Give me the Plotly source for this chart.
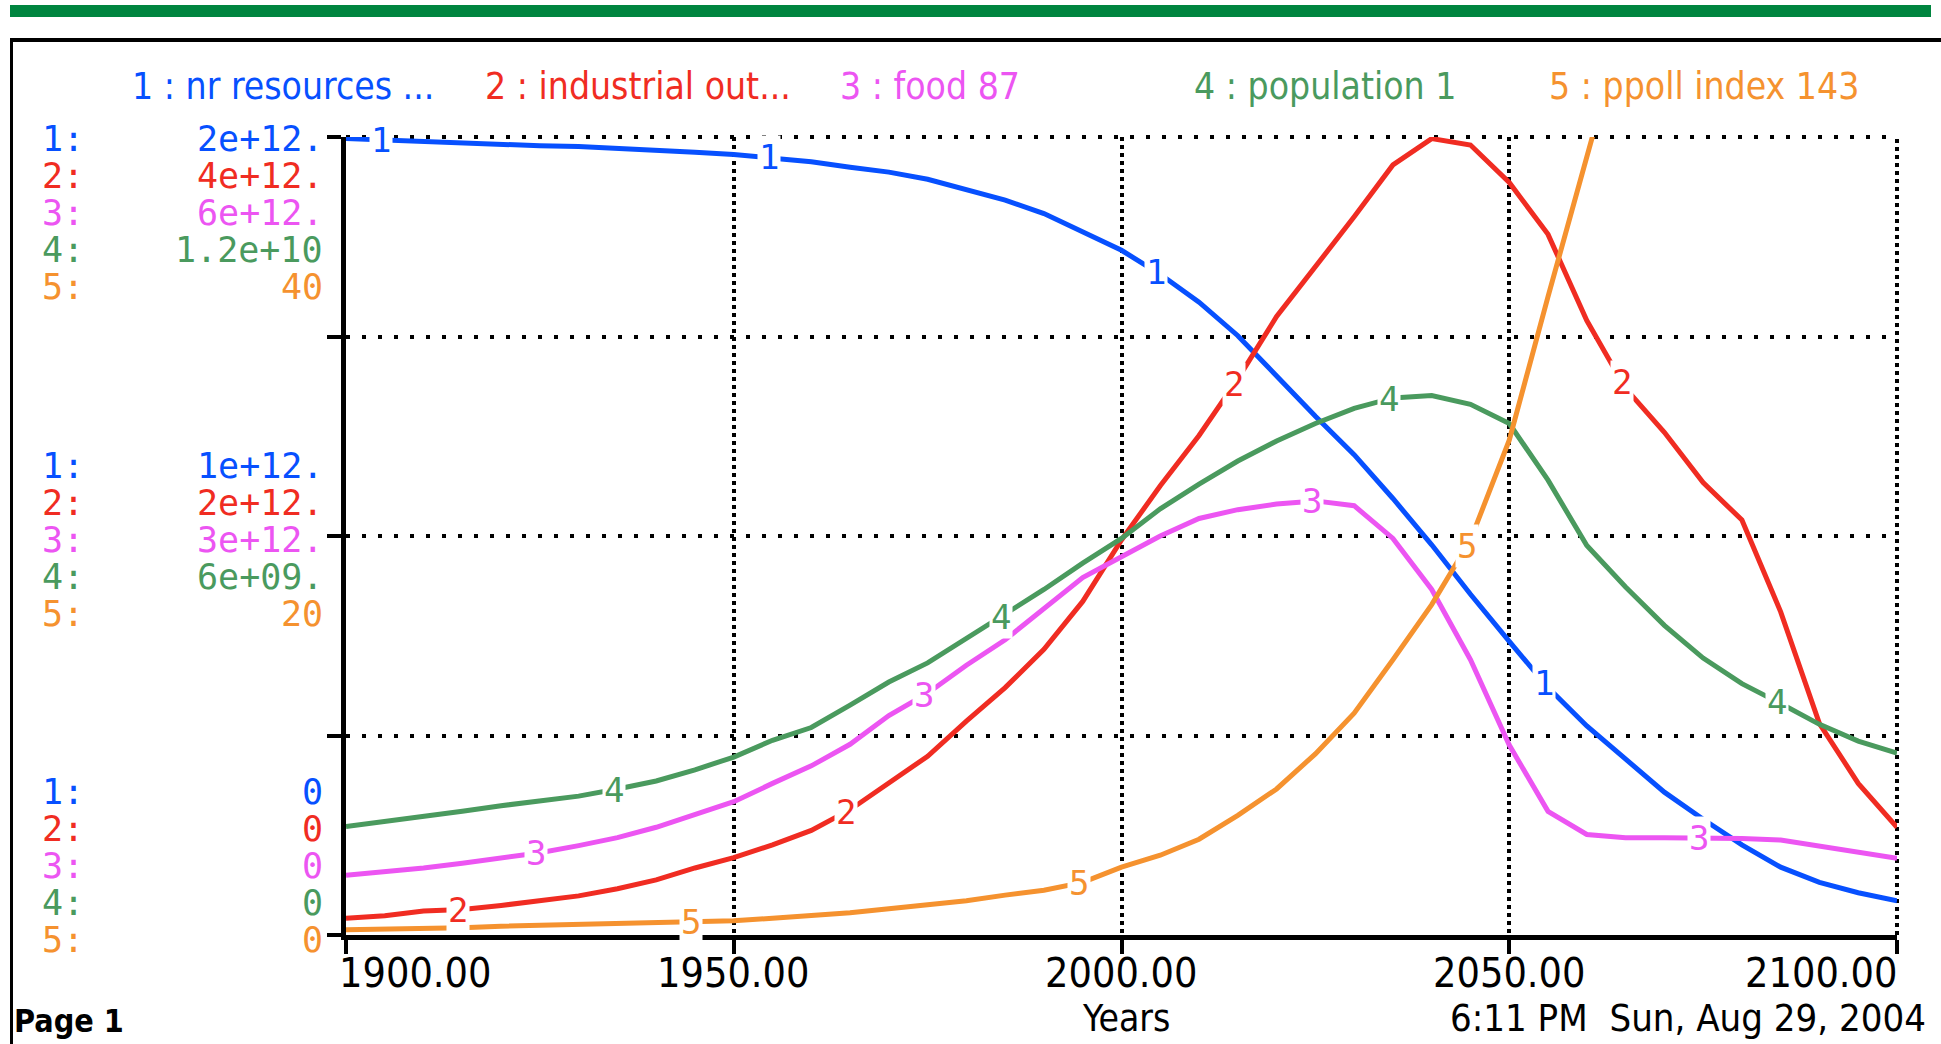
import numpy as np
import plotly.graph_objects as go

# ---------------- data ----------------
YEARS = list(range(1900, 2101, 5))

nr_resources = [1.996e12, 1.992e12, 1.990e12, 1.986e12, 1.980e12, 1.978e12, 1.976e12, 1.972e12,
                1.966e12, 1.962e12, 1.956e12, 1.948e12, 1.938e12, 1.924e12, 1.912e12, 1.894e12,
                1.868e12, 1.842e12, 1.808e12, 1.762e12, 1.716e12, 1.656e12, 1.586e12, 1.502e12,
                1.400e12, 1.300e12, 1.204e12, 1.094e12, 0.978e12, 0.854e12, 0.736e12, 0.620e12,
                0.524e12, 0.442e12, 0.358e12, 0.290e12, 0.226e12, 0.170e12, 0.132e12, 0.106e12,
                0.086e12]

industrial_output = [0.084e12, 0.096e12, 0.120e12, 0.128e12, 0.148e12, 0.172e12, 0.196e12, 0.232e12,
                     0.276e12, 0.336e12, 0.388e12, 0.452e12, 0.524e12, 0.628e12, 0.760e12, 0.896e12,
                     1.072e12, 1.240e12, 1.432e12, 1.672e12, 1.980e12, 2.252e12, 2.504e12, 2.788e12,
                     3.100e12, 3.348e12, 3.600e12, 3.860e12, 3.992e12, 3.960e12, 3.772e12, 3.512e12,
                     3.080e12, 2.740e12, 2.520e12, 2.268e12, 2.080e12, 1.620e12, 1.060e12, 0.760e12,
                     0.540e12]

food = [0.450e12, 0.474e12, 0.504e12, 0.540e12, 0.576e12, 0.618e12, 0.672e12, 0.732e12,
        0.810e12, 0.906e12, 1.002e12, 1.140e12, 1.272e12, 1.434e12, 1.650e12, 1.818e12,
        2.028e12, 2.220e12, 2.460e12, 2.688e12, 2.844e12, 3.000e12, 3.132e12, 3.198e12,
        3.240e12, 3.264e12, 3.228e12, 2.982e12, 2.598e12, 2.070e12, 1.428e12, 0.930e12,
        0.756e12, 0.732e12, 0.732e12, 0.732e12, 0.726e12, 0.714e12, 0.666e12, 0.624e12,
        0.576e12]

population = [1.632e9, 1.704e9, 1.788e9, 1.860e9, 1.944e9, 2.016e9, 2.088e9, 2.196e9,
              2.316e9, 2.484e9, 2.676e9, 2.928e9, 3.120e9, 3.456e9, 3.804e9, 4.092e9,
              4.464e9, 4.824e9, 5.196e9, 5.592e9, 5.964e9, 6.408e9, 6.780e9, 7.128e9,
              7.428e9, 7.692e9, 7.920e9, 8.076e9, 8.112e9, 7.980e9, 7.692e9, 6.840e9,
              5.856e9, 5.232e9, 4.656e9, 4.164e9, 3.780e9, 3.480e9, 3.168e9, 2.916e9,
              2.736e9]

PPOLL_YEARS = list(range(1900, 2066, 5))
ppoll_index = [0.26, 0.28, 0.32, 0.36, 0.44, 0.48, 0.52, 0.56, 0.60, 0.64, 0.72, 0.84,
               0.96, 1.12, 1.32, 1.52, 1.72, 2.00, 2.24, 2.64, 3.40, 4.00, 4.80, 6.00,
               7.32, 9.08, 11.12, 13.80, 16.56, 19.80, 24.80, 32.00, 38.80, 46.00]

legend_labels = ["1 : nr resources ...", "2 : industrial out...", "3 : food 87",
                 "4 : population 1", "5 : ppoll index 143"]
row_labels = ["1:", "2:", "3:", "4:", "5:"]
scale_max = [2e12, 4e12, 6e12, 1.2e10, 40]
top_labels = ["2e+12.", "4e+12.", "6e+12.", "1.2e+10", "40"]
mid_labels = ["1e+12.", "2e+12.", "3e+12.", "6e+09.", "20"]
bottom_labels = ["0", "0", "0", "0", "0"]
x_ticks = [1900, 1950, 2000, 2050, 2100]
x_tick_labels = ["1900.00", "1950.00", "2000.00", "2050.00", "2100.00"]

colors = ["#0750FF", "#F02C22", "#EC55F2", "#4A9A5E", "#F5922F"]

# ---------------- figure ----------------
W, H = 1941, 1044
ML, MR, MT, MB = 346, 44, 137, 109
PW, PH = W - ML - MR, H - MT - MB


def px(x):
    return (x - ML) / PW


def py(y):
    return (H - MB - y) / PH


MONO = "DejaVu Sans Mono"
COND = "DejaVu Sans Condensed, DejaVu Sans"

series = [(YEARS, nr_resources), (YEARS, industrial_output), (YEARS, food),
          (YEARS, population), (PPOLL_YEARS, ppoll_index)]
axis_ids = ["y", "y2", "y3", "y4", "y5"]

fig = go.Figure()
for k, (xs, ys) in enumerate(series):
    fig.add_trace(go.Scatter(x=xs, y=ys, yaxis=axis_ids[k], mode="lines",
                             line=dict(color=colors[k], width=5),
                             hoverinfo="skip", showlegend=False))

ann = []
# number labels on curves
for k, (xs, ys) in enumerate(series):
    lab_years = np.arange(1904.5 + 10 * k, 2100, 50)
    lab_years = lab_years[lab_years <= xs[-1]]
    yv = np.interp(lab_years, xs, ys)
    for lx, ly in zip(lab_years, yv):
        if ly > scale_max[k]:
            continue
        ann.append(dict(x=float(lx), y=float(ly), xref="x", yref=axis_ids[k],
                        text=str(k + 1), showarrow=False, bgcolor="white", borderpad=1,
                        font=dict(family=MONO, size=34, color=colors[k])))

# scale labels on the left
for i in range(5):
    groups = [(scale_max[i], top_labels[i], -(2 + 37 * i)),
              (scale_max[i] / 2, mid_labels[i], -(4 + 37 * (i - 2))),
              (0, bottom_labels[i], 37 * (4 - i) - 5)]
    for yv, txt, ysh in groups:
        ann.append(dict(x=px(40), y=yv, xref="paper", yref=axis_ids[i], yshift=ysh,
                        text=row_labels[i], showarrow=False, xanchor="left", yanchor="middle",
                        font=dict(family=MONO, size=35, color=colors[i])))
        ann.append(dict(x=px(325), y=yv, xref="paper", yref=axis_ids[i], yshift=ysh,
                        text=txt, showarrow=False, xanchor="right", yanchor="middle",
                        font=dict(family=MONO, size=35, color=colors[i])))

# x tick labels
for j, (tv, tl) in enumerate(zip(x_ticks, x_tick_labels)):
    if j == 0:
        xa, xs_ = "left", -9
    elif j == len(x_ticks) - 1:
        xa, xs_ = "right", 3
    else:
        xa, xs_ = "center", 0
    ann.append(dict(x=tv, y=0, xref="x", yref="paper", xanchor=xa, xshift=xs_,
                    yanchor="middle", yshift=-38, text=tl, showarrow=False,
                    font=dict(family=COND, size=41, color="black")))

# legend row at top
leg_x = [130, 483, 838, 1192, 1547]
for k in range(5):
    ann.append(dict(x=px(leg_x[k]), y=py(86), xref="paper", yref="paper",
                    xanchor="left", yanchor="middle", text=legend_labels[k], showarrow=False,
                    font=dict(family=COND, size=37, color=colors[k])))

# footer texts
ann.append(dict(x=px(12), y=py(H - 2), xref="paper", yref="paper", xanchor="left",
                yanchor="bottom", text="<b>Page 1</b>", showarrow=False,
                font=dict(family=COND, size=32, color="black")))
ann.append(dict(x=px(1126), y=py(H - 2), xref="paper", yref="paper", xanchor="center",
                yanchor="bottom", text="Years", showarrow=False,
                font=dict(family=COND, size=37, color="black")))
ann.append(dict(x=px(1928), y=py(H - 2), xref="paper", yref="paper", xanchor="right",
                yanchor="bottom", text="6:11 PM  Sun, Aug 29, 2004", showarrow=False,
                font=dict(family=COND, size=38, color="black")))

shapes = [
    dict(type="rect", xref="paper", yref="paper", x0=px(10), x1=px(1931), y0=py(17), y1=py(5),
         fillcolor="#00853F", line=dict(width=0), layer="above"),
    dict(type="rect", xref="paper", yref="paper", x0=px(10), x1=px(1941), y0=py(42), y1=py(38),
         fillcolor="black", line=dict(width=0), layer="above"),
    dict(type="rect", xref="paper", yref="paper", x0=px(10), x1=px(13), y0=py(1044), y1=py(40),
         fillcolor="black", line=dict(width=0), layer="above"),
    # dotted top and right frame edges
    dict(type="line", xref="paper", yref="paper", x0=0, x1=1, y0=1, y1=1,
         line=dict(color="black", width=4, dash="4px,12px"), layer="below"),
    dict(type="line", xref="paper", yref="paper", x0=1, x1=1, y0=0, y1=1,
         line=dict(color="black", width=4, dash="4px,4px"), layer="below"),
]

fig.update_layout(
    width=W, height=H,
    margin=dict(l=ML, r=MR, t=MT, b=MB, pad=0),
    paper_bgcolor="white", plot_bgcolor="white",
    showlegend=False,
    annotations=ann,
    shapes=shapes,
    xaxis=dict(range=[1900, 2100], tickvals=x_ticks, showticklabels=False,
               ticks="outside", ticklen=14, tickwidth=4, tickcolor="black",
               showline=True, linewidth=5, linecolor="black",
               showgrid=True, gridcolor="black", gridwidth=4, griddash="4px,4px",
               zeroline=False),
    yaxis=dict(range=[0, scale_max[0]], tickvals=[scale_max[0] * q for q in (0, 0.25, 0.5, 0.75, 1)],
               showticklabels=False, ticks="outside", ticklen=14, tickwidth=4, tickcolor="black",
               showline=True, linewidth=5, linecolor="black",
               showgrid=True, gridcolor="black", gridwidth=4, griddash="4px,12px",
               zeroline=False),
)
for k in range(1, 5):
    fig.update_layout(**{f"yaxis{k + 1}": dict(range=[0, scale_max[k]], overlaying="y",
                                                 visible=False, showgrid=False, zeroline=False)})

fig.write_html("out.html", config={"displayModeBar": False},
               post_script="document.body.style.margin='0';")
